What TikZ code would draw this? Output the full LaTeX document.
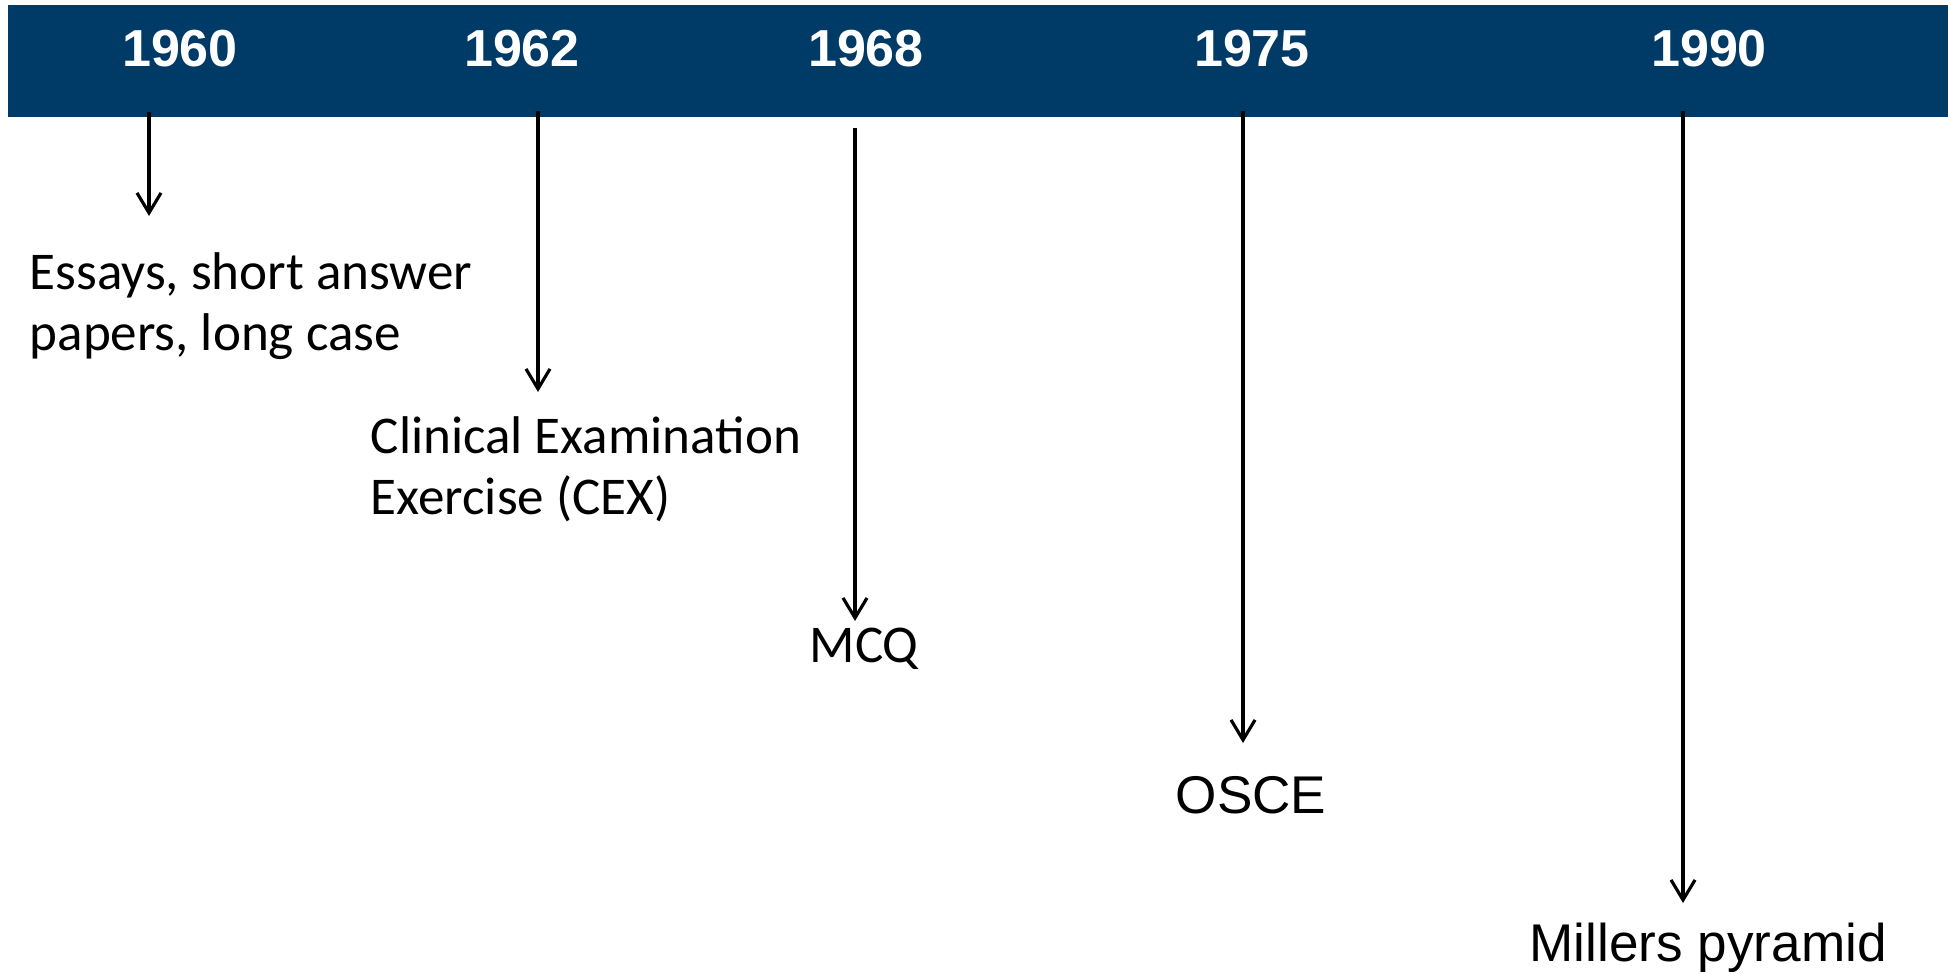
\documentclass[tikz,border=0pt]{standalone}
\usepackage{fontspec}
\setmainfont{Carlito}
\newfontfamily\arialfont{Liberation Sans}
\usetikzlibrary{arrows.meta}
\definecolor{barblue}{RGB}{0,58,102}
\tikzstyle{yr} = [font=\arialfont\bfseries\fontsize{14.8}{17.8}\selectfont, text=white]
\tikzstyle{evt} = [font=\fontsize{15.1}{17.6}\selectfont, align=left, anchor=base west, inner sep=0pt]
\tikzstyle{evtarial} = [evt, font=\arialfont\fontsize{15.1}{17.6}\selectfont]
\tikzstyle{arrow} = [line width=0.9pt, -{Straight Barb[length=2mm,width=2.4mm]}]

\begin{document}
\begin{tikzpicture}[x=0.01cm, y=-0.01cm]
	\useasboundingbox (0,0) rectangle (1948,974);
	\fill [barblue] (8,5) rectangle (1948,117);
	% years on the bar
	\node (y1960) [yr] at (180,48.5) {1960};
	\node (y1962) [yr] at (522,48.5) {1962};
	\node (y1968) [yr] at (866,48.5) {1968};
	\node (y1975) [yr] at (1252,48.5) {1975};
	\node (y1990) [yr] at (1709,48.5) {1990};
	% events (base = last line)
	\node (essays) [evt] at (29,351) {Essays, short answer\\papers, long case};
	\node (cex) [evt] at (370,515) {Clinical Examination\\Exercise (CEX)};
	\node (mcq) [evt] at (809,663) {MCQ};
	\node (osce) [evtarial] at (1175,814) {OSCE};
	\node (miller) [evtarial] at (1529,962) {Millers pyramid};
	% arrow ends
	\coordinate (s1960) at (149,112);
	\coordinate (e1960) at (149,216);
	\coordinate (s1962) at (538,111);
	\coordinate (e1962) at (538,392);
	\coordinate (s1968) at (855,128);
	\coordinate (e1968) at (855,621);
	\coordinate (s1975) at (1243,111);
	\coordinate (e1975) at (1243,743);
	\coordinate (s1990) at (1683,111);
	\coordinate (e1990) at (1683,903);
	\draw [arrow] (s1960) -- (e1960);
	\draw [arrow] (s1962) -- (e1962);
	\draw [arrow] (s1968) -- (e1968);
	\draw [arrow] (s1975) -- (e1975);
	\draw [arrow] (s1990) -- (e1990);
\end{tikzpicture}
\end{document}
